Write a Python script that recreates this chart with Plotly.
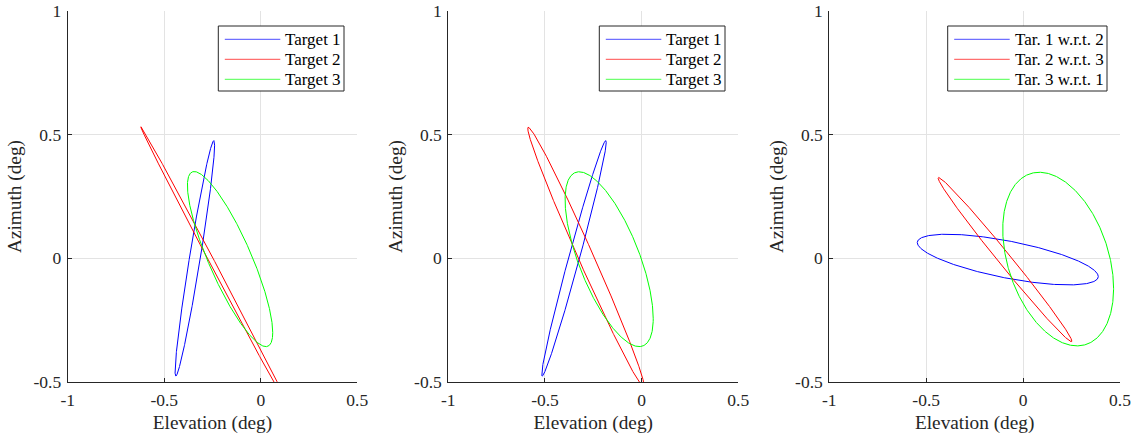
import numpy as np
import plotly.graph_objects as go

# ---- data: ellipse parameters per panel ----
# each ellipse: centre (cx, cy), half-extents (sx, sy), correlation rho
p1_names = ["Target 1", "Target 2", "Target 3"]
p1_cx = [-0.3415, -0.228, -0.159]
p1_cy = [0.0, -0.05, -0.003]
p1_sx = [0.1025, 0.3933, 0.221]
p1_sy = [0.476, 0.582, 0.354]
p1_rho = [0.961, -0.9993, -0.84]

p2_names = ["Target 1", "Target 2", "Target 3"]
p2_cx = [-0.350, -0.288, -0.168]
p2_cy = [0.0, 0.005, -0.0035]
p2_sx = [0.167, 0.301, 0.228]
p2_sy = [0.476, 0.525, 0.3535]
p2_rho = [0.985, -0.990, -0.68]

p3_names = ["Tar. 1 w.r.t. 2", "Tar. 2 w.r.t. 3", "Tar. 3 w.r.t. 1"]
p3_cx = [-0.079, -0.0935, 0.181]
p3_cy = [-0.005, -0.005, -0.003]
p3_sx = [0.467, 0.345, 0.286]
p3_sy = [0.1025, 0.332, 0.351]
p3_rho = [-0.67, -0.9927, -0.34]

x_ticks = [-1, -0.5, 0, 0.5]
x_ticktext = ["-1", "-0.5", "0", "0.5"]
y_ticks = [-0.5, 0, 0.5, 1]
y_ticktext = ["-0.5", "0", "0.5", "1"]

colors = ["#0000ff", "#ff0000", "#00ff00"]

panels = [
    (p1_names, p1_cx, p1_cy, p1_sx, p1_sy, p1_rho),
    (p2_names, p2_cx, p2_cy, p2_sx, p2_sy, p2_rho),
    (p3_names, p3_cx, p3_cy, p3_sx, p3_sy, p3_rho),
]

# ---- layout geometry (page pixels) ----
W, H = 1137, 441
ML, MR, MT, MB = 60, 2, 2, 50
PW, PH = W - ML - MR, H - MT - MB

def fx(px):
    return (px - ML) / PW

def fy(py):
    return (H - MB - py) / PH

x_domains = [[fx(67.7), fx(357.3)], [fx(448.3), fx(738.3)], [fx(829.3), fx(1120.0)]]
y_domain = [fy(382), fy(11)]
legend_left = [218.3, 599.3, 947.7]
legend_right = [344.0, 725.0, 1107.0]
legend_top, legend_bottom = 26.0, 91.0
legend_rows = [39.3, 59.3, 79.3]

t = np.linspace(0, 2 * np.pi, 721)

fig = go.Figure()
ink = "#262626"
tickfont = dict(family="Liberation Serif", size=17.5, color=ink)
titlefont = dict(family="Liberation Serif", size=19.3, color=ink)
legfont = dict(family="Liberation Serif", size=17, color="black")

shapes = []
annotations = []
for i, (names, cxs, cys, sxs, sys_, rhos) in enumerate(panels):
    xa = "x" if i == 0 else f"x{i+1}"
    ya = "y" if i == 0 else f"y{i+1}"
    for k in range(3):
        r = rhos[k]
        xs = cxs[k] + sxs[k] * np.cos(t)
        ys = cys[k] + sys_[k] * (r * np.cos(t) + np.sqrt(1 - r * r) * np.sin(t))
        fig.add_trace(go.Scatter(
            x=xs, y=ys, mode="lines", name=names[k],
            line=dict(color=colors[k], width=1),
            xaxis=xa, yaxis=ya, hoverinfo="skip", showlegend=False,
        ))
    axx = dict(
        domain=x_domains[i], range=[-1, 0.5], anchor=ya,
        tickvals=x_ticks, ticktext=x_ticktext, ticks="inside", ticklen=4,
        tickcolor=ink, showline=True, linecolor=ink, linewidth=1,
        showgrid=True, gridcolor="#e3e3e3", gridwidth=1, zeroline=False,
        tickfont=tickfont, ticklabelstandoff=2, ticklabeloverflow="allow",
        title=dict(text="Elevation (deg)", font=titlefont, standoff=6),
    )
    axy = dict(
        domain=y_domain, range=[-0.5, 1], anchor=xa,
        tickvals=y_ticks, ticktext=y_ticktext, ticks="inside", ticklen=4,
        tickcolor=ink, showline=True, linecolor=ink, linewidth=1,
        showgrid=True, gridcolor="#e3e3e3", gridwidth=1, zeroline=False,
        tickfont=tickfont, ticklabelstandoff=2, ticklabeloverflow="allow",
        title=dict(text="Azimuth (deg)", font=titlefont, standoff=6),
    )
    key = "" if i == 0 else str(i + 1)
    fig.layout["xaxis" + key] = axx
    fig.layout["yaxis" + key] = axy

    # legend box drawn as in the reference
    L, R = legend_left[i], legend_right[i]
    shapes.append(dict(type="rect", xref="paper", yref="paper",
                       x0=fx(L), x1=fx(R), y0=fy(legend_bottom), y1=fy(legend_top),
                       line=dict(color=ink, width=1), fillcolor="white", layer="above"))
    for k in range(3):
        yy = fy(legend_rows[k])
        shapes.append(dict(type="line", xref="paper", yref="paper",
                           x0=fx(L + 6.5), x1=fx(L + 62), y0=yy, y1=yy,
                           line=dict(color=colors[k], width=1), opacity=0.7, layer="above"))
        annotations.append(dict(xref="paper", yref="paper", x=fx(L + 65), y=yy,
                                xanchor="left", yanchor="middle", text=names[k],
                                showarrow=False, font=legfont))

fig.update_layout(
    width=W, height=H,
    margin=dict(l=ML, r=MR, t=MT, b=MB, autoexpand=False),
    paper_bgcolor="white", plot_bgcolor="white",
    showlegend=False, shapes=shapes, annotations=annotations,
)

# remove the default 8 px page margin so the figure fills the window exactly
fig.write_html("out.html", config={"displayModeBar": False},
               post_script="document.body.style.margin='0px';")
